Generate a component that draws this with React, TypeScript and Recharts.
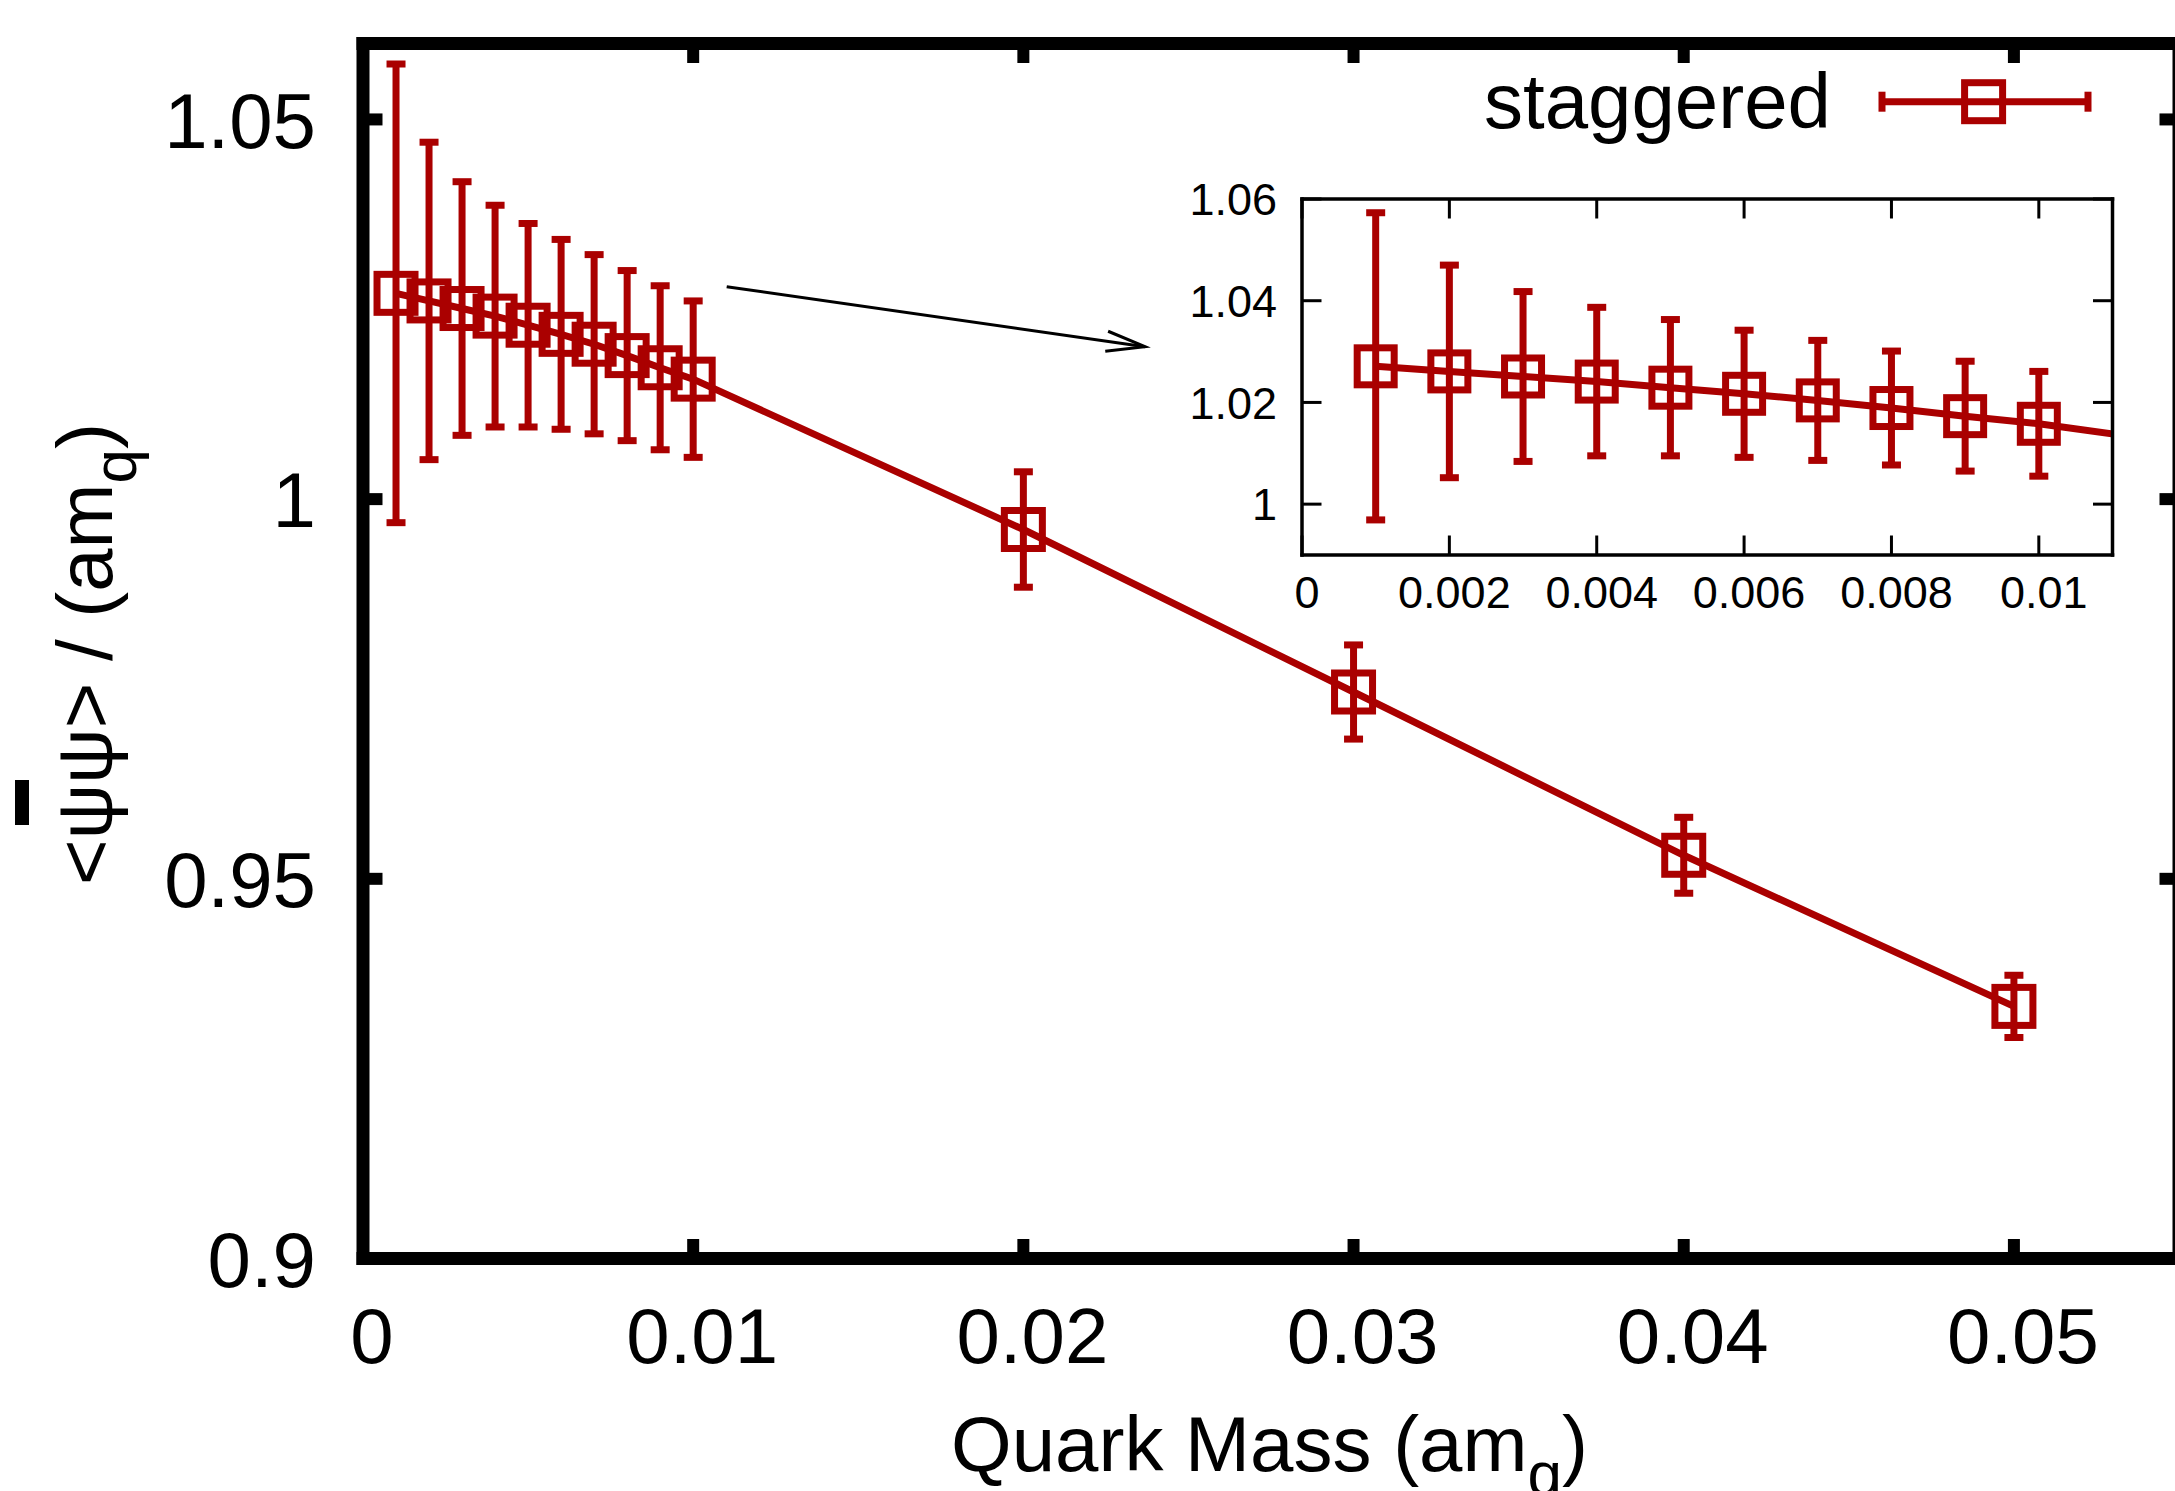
import React from 'react';
import { ComposedChart, Line, XAxis, YAxis, ErrorBar, Legend, ReferenceLine } from 'recharts';

// ---- data ----
const masses = [0.001, 0.002, 0.003, 0.004, 0.005, 0.006, 0.007, 0.008, 0.009, 0.01, 0.02, 0.03, 0.04, 0.05];
const condensate = [1.0271, 1.0261, 1.0251, 1.0241, 1.0229, 1.0217, 1.0204, 1.0189, 1.0173, 1.0158, 0.996, 0.9746, 0.9531, 0.9332];
const errors = [0.0302, 0.0209, 0.0167, 0.0146, 0.0134, 0.0125, 0.0118, 0.0112, 0.0108, 0.0103, 0.0076, 0.0062, 0.005, 0.0041];
const seriesName = 'staggered';

const mainXTicks = [0, 0.01, 0.02, 0.03, 0.04, 0.05];
const mainYTicks = [0.9, 0.95, 1, 1.05];
const mainXDomain = [0, 0.055];
const mainYDomain = [0.9, 1.06];

const insetXTicks = [0, 0.002, 0.004, 0.006, 0.008, 0.01];
const insetYTicks = [1, 1.02, 1.04, 1.06];
const insetXDomain = [0, 0.011];
const insetYDomain = [0.99, 1.06];

const arrowSegment = [
  { x: 0.011015, y: 1.02797 },
  { x: 0.023684, y: 1.02007 },
];

const xTitle = 'Quark Mass (am';
const yTitle = '<ψψ> / (am';
const subQ = 'q';

const data = masses.map((m, i) => ({ m, v: condensate[i], err: errors[i] }));

const RED = '#aa0000';
const FONT = '"Liberation Sans", Arial, Helvetica, sans-serif';

// ---- main chart pieces ----
const SquareDot = (props: any) => {
  const { cx, cy } = props;
  if (cx == null || cy == null) return null;
  return <rect x={cx - 19} y={cy - 19} width={38} height={38} fill="none" stroke={RED} strokeWidth={7} />;
};

const InsetSquareDot = (props: any) => {
  const { cx, cy } = props;
  if (cx == null || cy == null) return null;
  return <rect x={cx - 18.5} y={cy - 18.5} width={37} height={37} fill="none" stroke={RED} strokeWidth={7} />;
};

const MainXTick = (props: any) => {
  const { x, y, payload } = props;
  return (
    <g>
      <line x1={x} x2={x} y1={y} y2={y - 19.5} stroke="#000" strokeWidth={12} />
      <text x={x + 9} y={y + 104.5} textAnchor="middle" fontSize={78} fontFamily={FONT} fill="#000">
        {String(payload.value)}
      </text>
    </g>
  );
};
const MainTopTick = (props: any) => {
  const { x, y } = props;
  return <line x1={x} x2={x} y1={y} y2={y + 19.5} stroke="#000" strokeWidth={12} />;
};
const MainYTick = (props: any) => {
  const { x, y, payload } = props;
  return (
    <g>
      <line x1={x} x2={x + 19.5} y1={y} y2={y} stroke="#000" strokeWidth={12} />
      <text x={x - 47} y={y} dy="0.36em" textAnchor="end" fontSize={78} fontFamily={FONT} fill="#000">
        {String(payload.value)}
      </text>
    </g>
  );
};
const MainRightTick = (props: any) => {
  const { x, y } = props;
  return <line x1={x} x2={x - 19.5} y1={y} y2={y} stroke="#000" strokeWidth={12} />;
};

const XTitle = () => (
  <text x={1269.5} y={1471} textAnchor="middle" fontSize={78} fontFamily={FONT} fill="#000">
    {xTitle}
    <tspan fontSize={62} dy={24}>{subQ}</tspan>
    <tspan dy={-24}>)</tspan>
  </text>
);

const YTitle = () => (
  <g>
    <text transform="translate(112,654) rotate(-90)" textAnchor="middle" fontSize={78} fontFamily={FONT} fill="#000">
      {yTitle}
      <tspan fontSize={62} dy={24}>{subQ}</tspan>
      <tspan dy={-24}>)</tspan>
    </text>
    <rect x={15} y={780} width={14} height={45} fill="#000" />
  </g>
);

const ArrowShape = (props: any) => {
  const { x1, y1, x2, y2 } = props;
  if ([x1, y1, x2, y2].some((v) => v == null)) return null;
  const ang = Math.atan2(y2 - y1, x2 - x1);
  const len = 40;
  const half = (14.6 * Math.PI) / 180;
  const ax = x2 - len * Math.cos(ang - half);
  const ay = y2 - len * Math.sin(ang - half);
  const bx = x2 - len * Math.cos(ang + half);
  const by = y2 - len * Math.sin(ang + half);
  return (
    <g>
      <line x1={x1} y1={y1} x2={x2} y2={y2} stroke="#000" strokeWidth={3} />
      <polyline points={`${ax},${ay} ${x2},${y2} ${bx},${by}`} fill="none" stroke="#000" strokeWidth={3} />
    </g>
  );
};

const LegendContent = (props: any) => {
  const label = props?.payload?.[0]?.value ?? seriesName;
  return (
    <svg width={2175} height={200} style={{ display: 'block' }}>
      <text x={1831} y={128} textAnchor="end" fontSize={78} fontFamily={FONT} fill="#000">
        {label}
      </text>
      <line x1={1879} x2={2091} y1={101.7} y2={101.7} stroke={RED} strokeWidth={7} />
      <line x1={1882} x2={1882} y1={91.7} y2={111.7} stroke={RED} strokeWidth={7} />
      <line x1={2088} x2={2088} y1={91.7} y2={111.7} stroke={RED} strokeWidth={7} />
      <rect x={1983.6 - 19} y={101.7 - 19} width={38} height={38} fill="none" stroke={RED} strokeWidth={7} />
    </svg>
  );
};

// ---- inset pieces ----
const InsetXTick = (props: any) => {
  const { x, y, payload } = props;
  return (
    <g>
      <line x1={x} x2={x} y1={y} y2={y - 19.5} stroke="#000" strokeWidth={3} />
      <text x={x + 5} y={y + 53} textAnchor="middle" fontSize={45} fontFamily={FONT} fill="#000">
        {String(payload.value)}
      </text>
    </g>
  );
};
const InsetTopTick = (props: any) => {
  const { x, y } = props;
  return <line x1={x} x2={x} y1={y} y2={y + 19.5} stroke="#000" strokeWidth={3} />;
};
const InsetYTick = (props: any) => {
  const { x, y, payload } = props;
  return (
    <g>
      <line x1={x} x2={x + 19.5} y1={y} y2={y} stroke="#000" strokeWidth={3} />
      <text x={x - 25} y={y} dy="0.36em" textAnchor="end" fontSize={45} fontFamily={FONT} fill="#000">
        {String(payload.value)}
      </text>
    </g>
  );
};
const InsetRightTick = (props: any) => {
  const { x, y } = props;
  return <line x1={x} x2={x - 19.5} y1={y} y2={y} stroke="#000" strokeWidth={3} />;
};

const mainAxisLine = { stroke: '#000', strokeWidth: 13, strokeLinecap: 'square' as const };
const insetAxisLine = { stroke: '#000', strokeWidth: 3.5, strokeLinecap: 'square' as const };

export default function App() {
  return (
    <div style={{ position: 'absolute', left: 0, top: 0, width: 2175, height: 1491, overflow: 'hidden', background: '#fff' }}>
      <div style={{ position: 'absolute', left: 0, top: 0 }}>
        <ComposedChart
          width={2190}
          height={1491}
          data={data}
          margin={{ top: 42.5, right: 10, bottom: 231.5, left: 0 }}
        >
          <XAxis
            xAxisId={0}
            dataKey="m"
            type="number"
            domain={mainXDomain}
            allowDataOverflow
            ticks={mainXTicks}
            interval={0}
            height={1}
            tickSize={0}
            tickMargin={0}
            tickLine={false}
            axisLine={mainAxisLine}
            tick={<MainXTick />}
            label={<XTitle />}
          />
          <XAxis
            xAxisId="top"
            orientation="top"
            dataKey="m"
            type="number"
            domain={mainXDomain}
            allowDataOverflow
            ticks={mainXTicks}
            interval={0}
            height={1}
            tickSize={0}
            tickMargin={0}
            tickLine={false}
            axisLine={mainAxisLine}
            tick={<MainTopTick />}
          />
          <YAxis
            yAxisId={0}
            type="number"
            domain={mainYDomain}
            allowDataOverflow
            ticks={mainYTicks}
            interval={0}
            width={363}
            tickSize={0}
            tickMargin={0}
            tickLine={false}
            axisLine={mainAxisLine}
            tick={<MainYTick />}
            label={<YTitle />}
          />
          <YAxis
            yAxisId="right"
            orientation="right"
            type="number"
            domain={mainYDomain}
            allowDataOverflow
            ticks={mainYTicks}
            interval={0}
            width={1}
            tickSize={0}
            tickMargin={0}
            tickLine={false}
            axisLine={mainAxisLine}
            tick={<MainRightTick />}
          />
          <ReferenceLine
            xAxisId={0}
            yAxisId={0}
            segment={arrowSegment}
            ifOverflow="visible"
            shape={(p: any) => <ArrowShape {...p} />}
          />
          <Line
            xAxisId={0}
            yAxisId={0}
            type="linear"
            dataKey="v"
            name={seriesName}
            stroke={RED}
            strokeWidth={7}
            dot={<SquareDot />}
            activeDot={false}
            isAnimationActive={false}
          >
            <ErrorBar dataKey="err" direction="y" width={9.5} strokeWidth={7} stroke={RED} isAnimationActive={false} />
          </Line>
          <Legend
            layout="horizontal"
            verticalAlign="middle"
            align="center"
            wrapperStyle={{ position: 'absolute', left: 0, top: 0, width: 2175, height: 200 }}
            content={(p: any) => <LegendContent {...p} />}
          />
        </ComposedChart>
      </div>

      <div style={{ position: 'absolute', left: 1150, top: 150 }}>
        <ComposedChart
          width={1025}
          height={480}
          data={data}
          margin={{ top: 48, right: 61.5, bottom: 74, left: 0 }}
        >
          <XAxis
            xAxisId={0}
            dataKey="m"
            type="number"
            domain={insetXDomain}
            allowDataOverflow
            ticks={insetXTicks}
            interval={0}
            height={1}
            tickSize={0}
            tickMargin={0}
            tickLine={false}
            axisLine={insetAxisLine}
            tick={<InsetXTick />}
          />
          <XAxis
            xAxisId="top"
            orientation="top"
            dataKey="m"
            type="number"
            domain={insetXDomain}
            allowDataOverflow
            ticks={insetXTicks}
            interval={0}
            height={1}
            tickSize={0}
            tickMargin={0}
            tickLine={false}
            axisLine={insetAxisLine}
            tick={<InsetTopTick />}
          />
          <YAxis
            yAxisId={0}
            type="number"
            domain={insetYDomain}
            allowDataOverflow
            ticks={insetYTicks}
            interval={0}
            width={152}
            tickSize={0}
            tickMargin={0}
            tickLine={false}
            axisLine={insetAxisLine}
            tick={<InsetYTick />}
          />
          <YAxis
            yAxisId="right"
            orientation="right"
            type="number"
            domain={insetYDomain}
            allowDataOverflow
            ticks={insetYTicks}
            interval={0}
            width={1}
            tickSize={0}
            tickMargin={0}
            tickLine={false}
            axisLine={insetAxisLine}
            tick={<InsetRightTick />}
          />
          <Line
            xAxisId={0}
            yAxisId={0}
            type="linear"
            dataKey="v"
            name={seriesName}
            stroke={RED}
            strokeWidth={7}
            dot={<InsetSquareDot />}
            activeDot={false}
            isAnimationActive={false}
          >
            <ErrorBar dataKey="err" direction="y" width={9.5} strokeWidth={7} stroke={RED} isAnimationActive={false} />
          </Line>
        </ComposedChart>
      </div>
    </div>
  );
}
